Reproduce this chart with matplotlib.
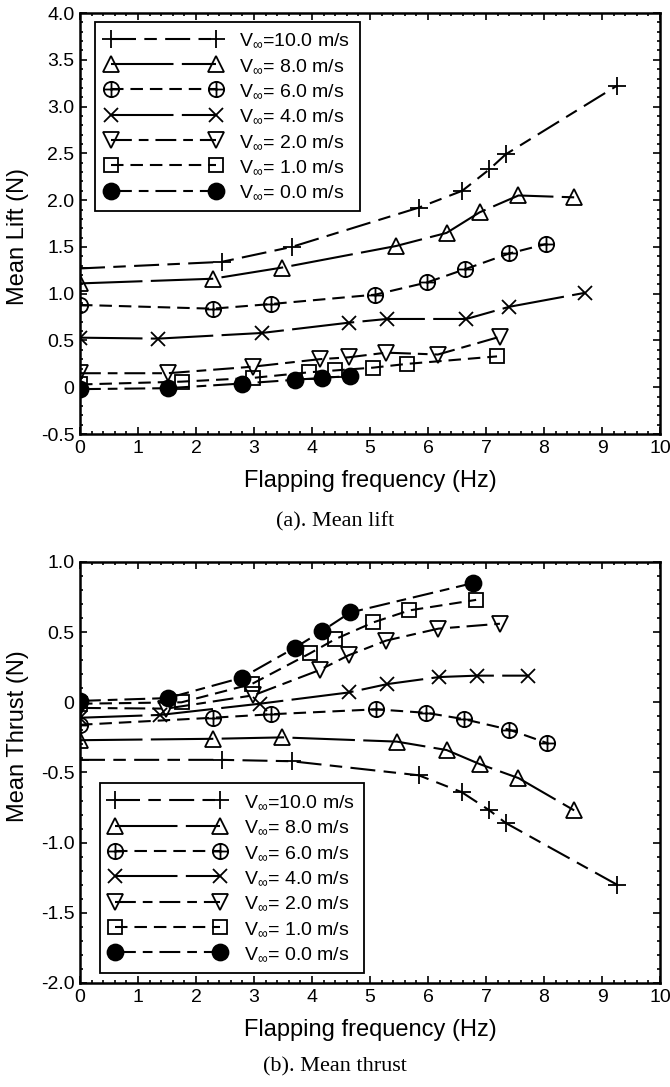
import numpy as np
import matplotlib
matplotlib.use("Agg")
import matplotlib.pyplot as plt
from matplotlib.path import Path
from matplotlib.ticker import MultipleLocator, FuncFormatter

plt.rcParams["font.family"] = ["Liberation Sans", "DejaVu Sans"]
plt.rcParams["mathtext.fontset"] = "custom"
plt.rcParams["mathtext.rm"] = "Liberation Sans"
plt.rcParams["mathtext.it"] = "Liberation Sans"
plt.rcParams["lines.scale_dashes"] = False

# ---- data (frequency in Hz, force in N) ----
speeds = ["10.0", "8.0", "6.0", "4.0", "2.0", "1.0", "0.0"]

# mean lift
f10_l = [0, 2.44, 3.65, 5.84, 6.59, 7.06, 7.34, 9.25]
L10 = [1.27, 1.34, 1.50, 1.92, 2.10, 2.33, 2.49, 3.22]
f8_l = [0, 2.29, 3.49, 5.45, 6.32, 6.89, 7.56, 8.52]
L8 = [1.11, 1.16, 1.28, 1.51, 1.65, 1.87, 2.05, 2.03]
f6_l = [0, 2.29, 3.30, 5.09, 5.98, 6.63, 7.40, 8.03]
L6 = [0.88, 0.84, 0.89, 0.99, 1.12, 1.26, 1.43, 1.53]
f4_l = [0, 1.35, 3.13, 4.63, 5.29, 6.66, 7.40, 8.71]
L4 = [0.53, 0.52, 0.58, 0.69, 0.73, 0.73, 0.86, 1.01]
f2_l = [0, 1.51, 2.98, 4.13, 4.63, 5.28, 6.17, 7.24]
L2 = [0.15, 0.15, 0.22, 0.30, 0.32, 0.37, 0.35, 0.54]
f1_l = [0, 1.75, 2.98, 3.95, 4.40, 5.06, 5.64, 7.19]
L1 = [0.03, 0.06, 0.10, 0.16, 0.18, 0.21, 0.25, 0.33]
f0_l = [0, 1.51, 2.79, 3.71, 4.17, 4.66]
L0 = [-0.02, -0.01, 0.04, 0.08, 0.10, 0.12]

# mean thrust
f10_t = [0, 2.44, 3.65, 5.84, 6.58, 7.06, 7.34, 9.26]
T10 = [-0.41, -0.41, -0.42, -0.52, -0.64, -0.77, -0.86, -1.30]
f8_t = [0, 2.29, 3.49, 5.46, 6.32, 6.89, 7.56, 8.52]
T8 = [-0.27, -0.26, -0.25, -0.28, -0.34, -0.44, -0.54, -0.77]
f6_t = [0, 2.29, 3.30, 5.11, 5.97, 6.62, 7.40, 8.05]
T6 = [-0.16, -0.11, -0.085, -0.05, -0.075, -0.12, -0.195, -0.29]
f4_t = [0, 1.38, 3.10, 4.63, 5.30, 6.19, 6.84, 7.73]
T4 = [-0.11, -0.09, -0.01, 0.07, 0.13, 0.18, 0.19, 0.19]
f2_t = [0, 1.49, 2.99, 4.13, 4.63, 5.28, 6.18, 7.24]
T2 = [-0.04, -0.045, 0.05, 0.23, 0.335, 0.44, 0.525, 0.56]
f1_t = [0, 1.75, 2.96, 3.97, 4.40, 5.06, 5.68, 6.83]
T1 = [-0.01, 0.0, 0.13, 0.35, 0.45, 0.57, 0.655, 0.73]
f0_t = [0, 1.51, 2.79, 3.71, 4.18, 4.66, 6.78]
T0 = [0.01, 0.03, 0.175, 0.39, 0.51, 0.64, 0.85]

lift = [(f10_l, L10), (f8_l, L8), (f6_l, L6), (f4_l, L4),
        (f2_l, L2), (f1_l, L1), (f0_l, L0)]
thrust = [(f10_t, T10), (f8_t, T8), (f6_t, T6), (f4_t, T4),
          (f2_t, T2), (f1_t, T1), (f0_t, T0)]

# circle with a cross inside, for the 6 m/s series
oplus = Path.make_compound_path(
    Path.unit_circle(),
    Path([(-1, 0), (1, 0)], [Path.MOVETO, Path.LINETO]),
    Path([(0, -1), (0, 1)], [Path.MOVETO, Path.LINETO]))

# marker, size, filled, dash pattern (points) for each speed
styles = [
    ("+", 13, False, (0, (18, 6, 9, 6))),
    ("^", 11.5, False, (0, (45, 6))),
    (oplus, 11, False, (0, (9, 5))),
    ("x", 10, False, (0, (45, 6))),
    ("v", 11.5, False, (0, (15, 5, 7, 5))),
    ("s", 10, False, (0, (9, 5))),
    ("o", 11.5, True, (0, (15, 5, 7, 5))),
]


def labels_fmt(v, pos):
    if abs(v) < 1e-9:
        return "0"
    return "%.1f" % v


def draw_panel(ax, series):
    for (fx, fy), spd, (mk, ms, filled, ls) in zip(series, speeds, styles):
        if spd == "10.0":
            lab = r"V$_{\infty}$=" + spd + " m/s"
        else:
            lab = r"V$_{\infty}$= " + spd + " m/s"
        ax.plot(fx, fy, color="black", lw=1.5, linestyle=ls, marker=mk,
                markersize=ms, markeredgewidth=1.3, markeredgecolor="black",
                markerfacecolor="black" if filled else "none", label=lab)
    ax.set_xlim(0, 10)
    ax.xaxis.set_major_locator(MultipleLocator(1))
    ax.xaxis.set_minor_locator(MultipleLocator(0.2))
    ax.yaxis.set_major_locator(MultipleLocator(0.5))
    ax.yaxis.set_minor_locator(MultipleLocator(0.1))
    ax.yaxis.set_major_formatter(FuncFormatter(labels_fmt))
    ax.tick_params(which="both", direction="in", top=True, right=True,
                   labelsize=14, width=1.2)
    ax.tick_params(which="major", length=5, pad=4)
    ax.tick_params(which="minor", length=2.5)
    for s in ax.spines.values():
        s.set_linewidth(1.8)
    ax.set_xlabel("Flapping frequency (Hz)", fontsize=17)
    ax.xaxis.set_label_coords(0.5, -0.112)
    ax.xaxis.label.set_va("center")


def add_legend(ax, loc, anchor):
    leg = ax.legend(loc=loc, bbox_to_anchor=anchor, borderaxespad=0,
                    numpoints=2, handlelength=6.0, handletextpad=0.9,
                    fontsize=14, labelspacing=0.39, borderpad=0.5,
                    fancybox=False, framealpha=1, edgecolor="black")
    leg.get_frame().set_linewidth(1.3)
    return leg


fig = plt.figure(figsize=(6.7, 10.87), dpi=100)
ax1 = fig.add_axes([0.1194, 0.6007, 0.8657, 0.3873])
ax2 = fig.add_axes([0.1194, 0.0957, 0.8657, 0.3873])

draw_panel(ax1, lift)
ax1.set_ylim(-0.5, 4.0)
ax1.set_ylabel("Mean Lift (N)", fontsize=17)
ax1.yaxis.set_label_coords(-0.107, 0.47)
ax1.yaxis.label.set_va("center")
add_legend(ax1, "upper left", (0.026, 0.979))

draw_panel(ax2, thrust)
ax2.set_ylim(-2.0, 1.0)
ax2.set_ylabel("Mean Thrust (N)", fontsize=17)
ax2.yaxis.set_label_coords(-0.107, 0.587)
ax2.yaxis.label.set_va("center")
add_legend(ax2, "lower left", (0.034, 0.024))

fig.text(0.5, 1 - 522 / 1087, "(a). Mean lift", ha="center", va="center",
         fontsize=16, family="Liberation Serif")
fig.text(0.5, 1 - 1067 / 1087, "(b). Mean thrust", ha="center", va="center",
         fontsize=16, family="Liberation Serif")

fig.savefig("out.png", dpi=100)
